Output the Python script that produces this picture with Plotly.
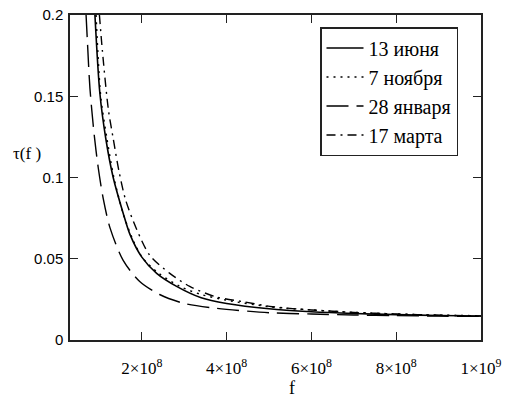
import plotly.graph_objects as go

# Values (f in Hz, tau in s)
f_june = [0.894e8, 1.01e8, 1.15e8, 1.325e8, 1.56e8, 1.72e8, 2.0e8, 2.35e8, 2.82e8, 3.4e8, 4.0e8, 5.0e8, 6.0e8, 7.0e8, 8.0e8, 9.0e8, 10.0e8]
tau_june = [0.200, 0.152, 0.124, 0.100, 0.078, 0.065, 0.051, 0.041, 0.033, 0.026, 0.0225, 0.0192, 0.0174, 0.0163, 0.0156, 0.0151, 0.0148]

f_nov = [0.92e8, 1.03e8, 1.17e8, 1.34e8, 1.57e8, 1.8e8, 2.02e8, 2.4e8, 2.9e8, 3.4e8, 4.0e8, 5.0e8, 6.0e8, 7.0e8, 8.0e8, 9.0e8, 10.0e8]
tau_nov = [0.200, 0.150, 0.125, 0.100, 0.077, 0.061, 0.0505, 0.041, 0.033, 0.028, 0.0245, 0.0205, 0.0185, 0.017, 0.016, 0.0153, 0.0149]

f_jan = [0.685e8, 0.72e8, 0.776e8, 0.878e8, 0.972e8, 1.09e8, 1.25e8, 1.56e8, 1.95e8, 2.42e8, 3.0e8, 3.76e8, 5.0e8, 6.0e8, 7.0e8, 8.0e8, 9.0e8, 10.0e8]
tau_jan = [0.200, 0.182, 0.155, 0.126, 0.106, 0.087, 0.069, 0.049, 0.036, 0.028, 0.0225, 0.0195, 0.0168, 0.016, 0.0154, 0.015, 0.0147, 0.0145]

f_mar = [1.0e8, 1.07e8, 1.21e8, 1.325e8, 1.46e8, 1.62e8, 1.88e8, 2.19e8, 2.66e8, 3.13e8, 3.76e8, 4.38e8, 5.08e8, 6.0e8, 7.0e8, 8.0e8, 9.0e8, 10.0e8]
tau_mar = [0.200, 0.178, 0.142, 0.124, 0.104, 0.086, 0.068, 0.052, 0.041, 0.033, 0.0265, 0.0236, 0.0205, 0.0185, 0.017, 0.016, 0.0153, 0.0148]

names = ["13 июня", "7 ноября", "28 января", "17 марта"]

x_tickvals = [2e8, 4e8, 6e8, 8e8, 1e9]
x_ticktext = ["2×10<sup>8</sup>", "4×10<sup>8</sup>", "6×10<sup>8</sup>", "8×10<sup>8</sup>", "1×10<sup>9</sup>"]
y_tickvals = [0, 0.05, 0.1, 0.15, 0.2]
y_ticktext = ["0", "0.05", "0.1", "0.15", "0.2"]

series = [
    (f_june, tau_june, "solid", 1.6),
    (f_nov, tau_nov, "2px,5px", 1.5),
    (f_jan, tau_jan, "22px,8px", 1.4),
    (f_mar, tau_mar, "9px,5px,2px,5px", 1.4),
]

SERIF = "Liberation Serif, Times New Roman, serif"
SANS = "Liberation Sans, Arial, sans-serif"

fig = go.Figure()
for (fx, ty, dash, w), nm in zip(series, names):
    fig.add_trace(go.Scatter(
        x=fx, y=ty, mode="lines", name=nm,
        line=dict(color="black", width=w, dash=dash, shape="spline", smoothing=0.8),
    ))

axis_common = dict(
    showgrid=False, zeroline=False, showline=True, linecolor="#222", linewidth=1.5,
    mirror="allticks", ticks="inside", ticklen=8, tickwidth=1.3, tickcolor="#222",
    automargin=False,
)

fig.update_layout(
    width=505, height=399,
    margin=dict(l=70, r=24, t=15, b=59),
    paper_bgcolor="white", plot_bgcolor="white",
    showlegend=True,
    legend=dict(
        x=(320 - 70) / 411, y=(340 - 27) / 325, xanchor="left", yanchor="top",
        bordercolor="#222", borderwidth=1.5, bgcolor="white",
        font=dict(family=SERIF, size=20, color="black"),
        tracegroupgap=0, itemwidth=37,
    ),
    xaxis=dict(
        range=[3.06e7, 1e9], tickvals=x_tickvals, ticktext=x_ticktext,
        tickfont=dict(family=SERIF, size=17, color="black"),
        ticklabelstandoff=12,
        **axis_common,
    ),
    yaxis=dict(
        range=[0, 0.2], tickvals=y_tickvals, ticktext=y_ticktext,
        tickfont=dict(family=SANS, size=15, color="black"),
        ticklabelstandoff=2,
        **axis_common,
    ),
    annotations=[
        dict(text="f", xref="paper", yref="paper", x=(292 - 70) / 411, y=-(388 - 340) / 325,
             xanchor="center", yanchor="middle", showarrow=False,
             font=dict(family=SERIF, size=18, color="black")),
        dict(text="τ(f )", xref="paper", yref="paper", x=-(70 - 27) / 411, y=(340 - 153) / 325,
             xanchor="center", yanchor="middle", showarrow=False,
             font=dict(family=SERIF, size=17, color="black")),
    ],
)

fig.write_html("out.html")
